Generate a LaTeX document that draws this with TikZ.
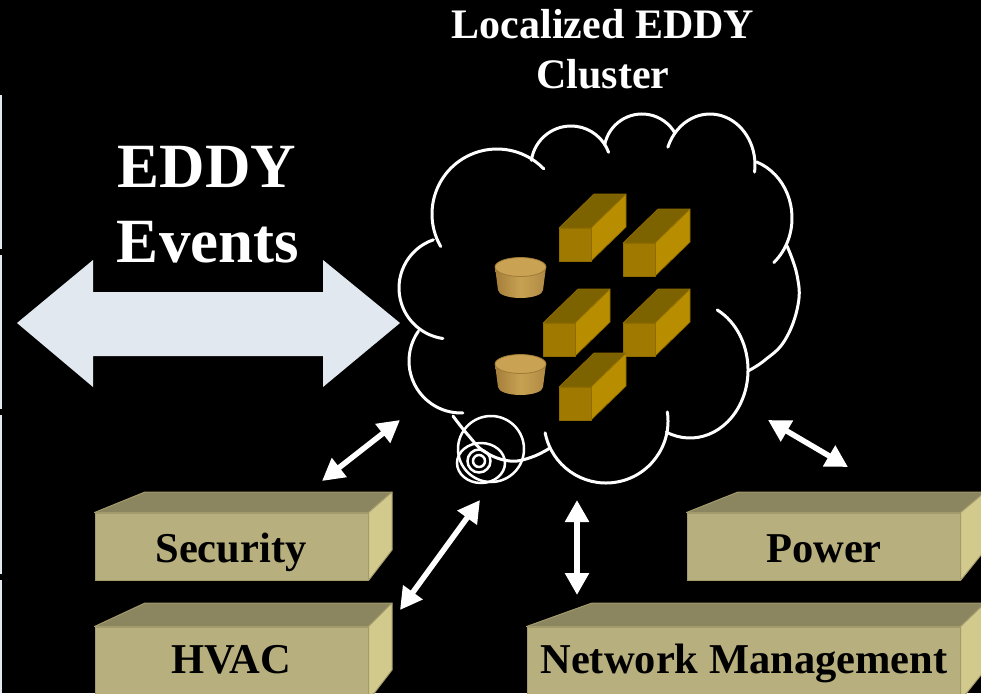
\documentclass[tikz,border=0pt]{standalone}
\usepackage{fontspec}
\setmainfont{Liberation Serif}
\usetikzlibrary{arrows.meta,calc}

\definecolor{evarrow}{HTML}{E1E8EF}
\definecolor{boxfront}{HTML}{B7AF7D}
\definecolor{boxtop}{HTML}{8C8660}
\definecolor{boxside}{HTML}{D2CA8C}
\definecolor{boxedge}{HTML}{A39B6C}
\definecolor{goldfront}{HTML}{A07A00}
\definecolor{goldtop}{HTML}{7D6200}
\definecolor{goldside}{HTML}{B88D00}
\definecolor{goldedge}{HTML}{8E6C00}
\definecolor{canleft}{HTML}{A47E3A}
\definecolor{canmid}{HTML}{C7A152}
\definecolor{canright}{HTML}{B08A44}
\definecolor{cantop}{HTML}{C9A353}
\definecolor{canrim}{HTML}{A07A36}

% gold cuboid: front top-left corner #1,#2
\newcommand{\goldblock}[2]{%
  \filldraw[goldblk, fill=goldtop] (#1,#2) -- ++(35,-34) -- ++(32,0) -- ++(-35,34) -- cycle;
  \filldraw[goldblk, fill=goldside] (#1+32,#2) -- ++(35,-34) -- ++(0,33) -- ++(-35,34) -- cycle;
  \filldraw[goldblk, fill=goldfront] (#1,#2) rectangle ++(32,33);
}
% tapered can: centre of top ellipse #1,#2
\newcommand{\goldcan}[2]{%
  \fill[left color=canleft, right color=canright, middle color=canmid]
    (#1-25.5,#2) -- (#1-22.5,#2+23) arc (180:0:22.5 and 8) -- (#1+25.5,#2) -- cycle;
  \filldraw[fill=cantop, draw=canrim, line width=0.8pt] (#1,#2) ellipse [x radius=25.5, y radius=9.5];
}

\begin{document}
\begin{tikzpicture}[x=1pt,y=-1pt,
  goldblk/.style={draw=goldedge, line width=0.7pt, line join=round},
  cloudline/.style={white, line width=3pt, line cap=round},
  link/.style={white, line width=5.5pt,
    {Triangle[width=23pt,length=22pt]}-{Triangle[width=23pt,length=22pt]}},
  frontface/.style={rectangle, draw=boxedge, fill=boxfront, line width=1pt, inner sep=0pt},
  topface/.style={draw=boxedge, fill=boxtop, line width=1pt, line join=round},
  sideface/.style={draw=boxedge, fill=boxside, line width=1pt, line join=round},
  boxlabel/.style={font=\fontsize{42.5}{42.5}\selectfont\bfseries, text=black, anchor=base, inner sep=0pt},
  titletext/.style={font=\fontsize{42}{42}\selectfont\bfseries, text=white, anchor=base, inner sep=0pt},
  bigtext/.style={font=\fontsize{63}{63}\selectfont\bfseries, text=white, anchor=base, inner sep=0pt}]

\fill[black] (0,0) rectangle (981,693);
\useasboundingbox (0,0) rectangle (981,693);

% thin rule along the left edge
\draw[evarrow, line width=1.5pt] (1,95) -- (1,249) (1,255) -- (1,409) (1,415) -- (1,574) (1,580) -- (1,693);

% titles
\node[titletext] (title1) at (603,38) {Localized EDDY};
\node[titletext] (title2) at (603,88) {Cluster};
\node[bigtext] (ev1) at (207,187) {EDDY};
\node[bigtext] (ev2) at (208,262) {Events};

% wide double arrow for events
\fill[evarrow] (17,323) -- (93,260) -- (93,292) -- (323,292) -- (323,260) -- (400,323)
  -- (323,387) -- (323,356) -- (93,356) -- (93,387) -- cycle;

% cloud outline, one scallop at a time (angles measured with y pointing down)
\draw[cloudline] (497,214) ++(150:65) arc (150:316:65);
\draw[cloudline] (571,166) ++(188:40) arc (188:340:40);
\draw[cloudline] (642,152) ++(191:38) arc (191:330:38);
\draw[cloudline] (710,165) ++(200.5:45 and 51) arc (200.5:368:45 and 51);
\draw[cloudline] (737,218) ++(291:55 and 60) arc (291:408:55 and 60);
\draw[cloudline] plot[smooth, tension=0.7] coordinates {(787,246) (797,275) (798,305) (785,340) (765,360) (748,371)};
\draw[cloudline] (690,370) ++(298:58 and 68) arc (298:474:58 and 68);
\draw[cloudline] (606,421) ++(-8.4:62) arc (-8.4:169:62);
\draw[cloudline] plot[smooth, tension=0.7] coordinates {(453,416) (468,435) (485,452) (510,461) (532,457) (550,448)};
\draw[cloudline] (461,361) ++(215:52) arc (215:88:52);
\draw[cloudline] (450,288) ++(251:51) arc (251:98:51);

% thought bubbles
\draw[cloudline, line width=2.5pt] (491,449) circle (33);
\draw[cloudline, line width=2.5pt] (481,463) ellipse [x radius=24, y radius=20];
\draw[cloudline, line width=2.5pt] (479,461) circle (11.5);
\draw[cloudline, line width=2.5pt] (479,461) circle (6);

% servers and storage inside the cloud
\goldcan{520.5}{267}
\goldcan{520.5}{364}
\goldblock{559}{228}
\goldblock{623}{243}
\goldblock{543}{323}
\goldblock{623}{323}
\goldblock{559}{387}

% subsystem boxes
\node[frontface, minimum width=273pt, minimum height=67pt] (security) at (231.5,546.5) {};
\filldraw[topface] (security.north west) -- (145,492) -- (392,492) -- (security.north east) -- cycle;
\filldraw[sideface] (security.north east) -- (392,492) -- (392,550) -- (security.south east) -- cycle;
\node[boxlabel] (securitytext) at (231,562) {Security};

\node[frontface, minimum width=273pt, minimum height=73pt] (hvac) at (231.5,663.5) {};
\filldraw[topface] (hvac.north west) -- (145,603) -- (392,603) -- (hvac.north east) -- cycle;
\filldraw[sideface] (hvac.north east) -- (392,603) -- (392,670) -- (hvac.south east) -- cycle;
\node[boxlabel] (hvactext) at (231,673) {HVAC};

\node[frontface, minimum width=273pt, minimum height=67pt] (power) at (823.5,546.5) {};
\filldraw[topface] (power.north west) -- (738,492) -- (990,492) -- (power.north east) -- cycle;
\filldraw[sideface] (power.north east) -- (985,492) -- (985,550) -- (power.south east) -- cycle;
\node[boxlabel] (powertext) at (824,562) {Power};

\node[frontface, minimum width=433pt, minimum height=73pt] (netmgmt) at (743.5,663.5) {};
\filldraw[topface] (netmgmt.north west) -- (592,603) -- (990,603) -- (netmgmt.north east) -- cycle;
\filldraw[sideface] (netmgmt.north east) -- (985,603) -- (985,670) -- (netmgmt.south east) -- cycle;
\node[boxlabel] (netmgmttext) at (744,673) {Network Management};

% links between the cloud and the subsystems
\coordinate (cloudsw) at (400,420);
\coordinate (bubble) at (480,500);
\coordinate (cloudbot) at (577,500);
\coordinate (cloudse) at (768,420);
\coordinate (securitytop) at (322,481);
\coordinate (hvactop) at (400,610);
\coordinate (netmgmttop) at (577,595);
\coordinate (powertop) at (848,467);
\draw[link] (securitytop) -- (cloudsw);
\draw[link] (hvactop) -- (bubble);
\draw[link, line width=6.5pt] (netmgmttop) -- (cloudbot);
\draw[link] (powertop) -- (cloudse);

\end{tikzpicture}
\end{document}
